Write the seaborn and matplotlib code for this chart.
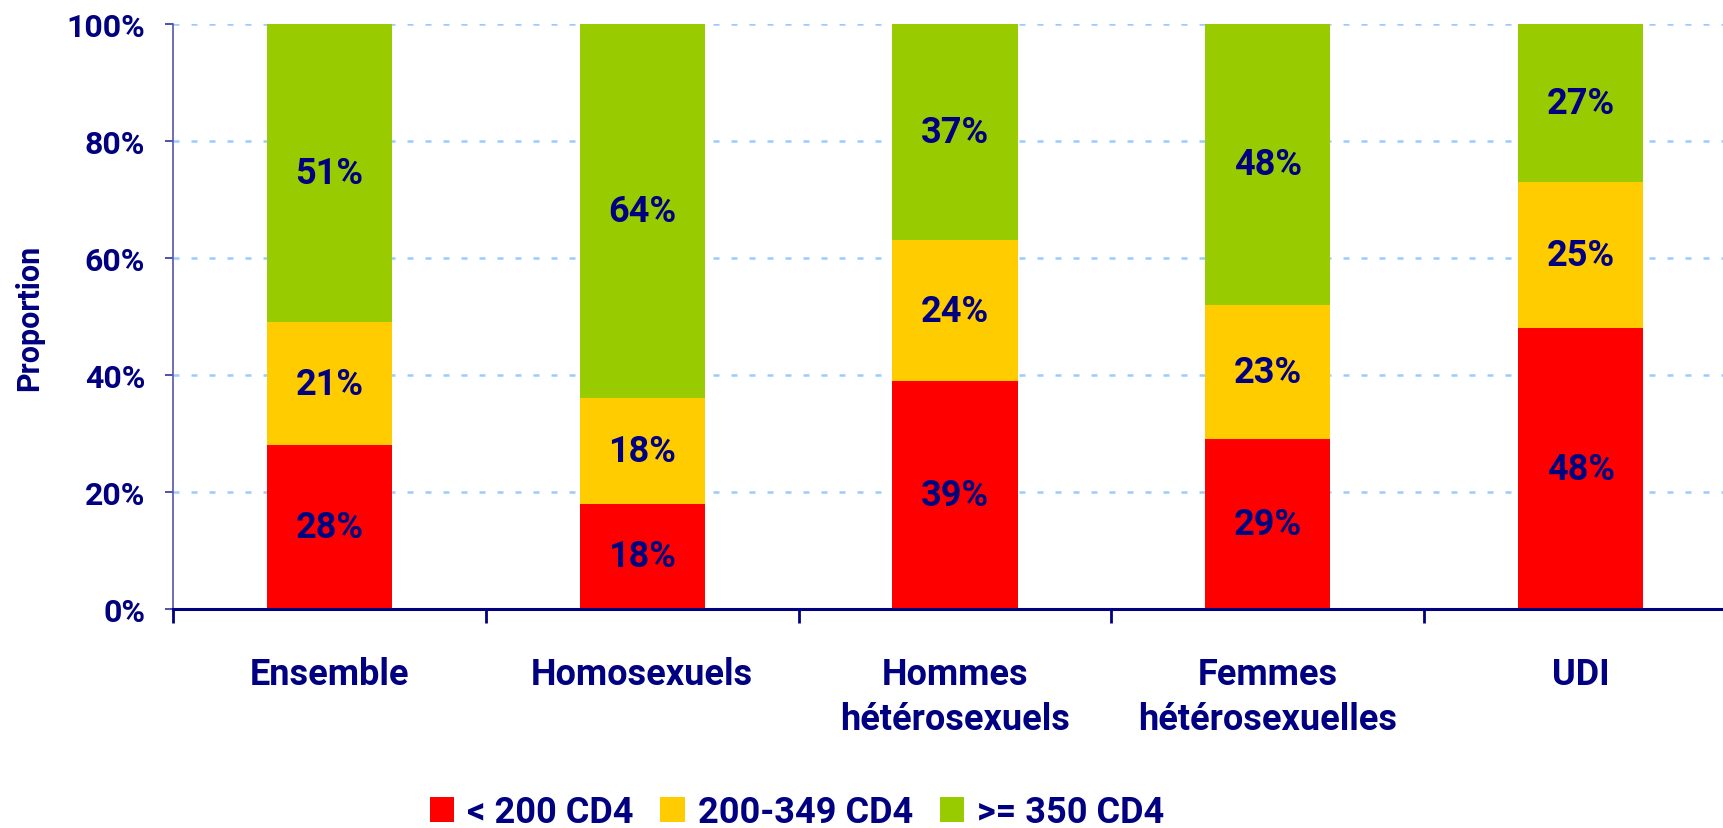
import matplotlib
matplotlib.use("Agg")
import matplotlib.pyplot as plt
import seaborn as sns
import pandas as pd
import numpy as np
from matplotlib.patches import Patch
from matplotlib.ticker import FixedLocator, PercentFormatter

categories = ["Ensemble", "Homosexuels", "Hommes\nhétérosexuels",
              "Femmes\nhétérosexuelles", "UDI"]
lt200 = [28, 18, 39, 29, 48]
mid = [21, 18, 24, 23, 25]
ge350 = [51, 64, 37, 48, 27]
series_names = ["< 200 CD4", "200-349 CD4", ">= 350 CD4"]
colors = ["#FF0000", "#FFCC00", "#99CC00"]
navy = "#000080"

sns.set_style("white")
plt.rcParams["font.family"] = ["Roboto", "DejaVu Sans"]
plt.rcParams["font.weight"] = "bold"

df = pd.DataFrame({"cat": categories, "a": lt200, "b": mid, "c": ge350})
df["ab"] = df["a"] + df["b"]
df["abc"] = df["ab"] + df["c"]

fig = plt.figure(figsize=(17.24, 8.29), dpi=100)
ax = fig.add_axes([173 / 1724, 1 - 610 / 829, (1737 - 173) / 1724, (610 - 25) / 829])

for yv in [20, 40, 60, 80, 100]:
    ax.axhline(yv, color="#99CCFF", lw=1.8, linestyle=(0, (2.4, 4.8)), zorder=0)

sns.barplot(data=df, x="cat", y="abc", color=colors[2], width=0.4, saturation=1,
            ax=ax, zorder=2, linewidth=0)
sns.barplot(data=df, x="cat", y="ab", color=colors[1], width=0.4, saturation=1,
            ax=ax, zorder=3, linewidth=0)
sns.barplot(data=df, x="cat", y="a", color=colors[0], width=0.4, saturation=1,
            ax=ax, zorder=4, linewidth=0)

for i in range(len(categories)):
    segs = [(0, lt200[i]), (lt200[i], mid[i]), (lt200[i] + mid[i], ge350[i])]
    for base, v in segs:
        ax.text(i, base + v / 2, f"{v}%", ha="center", va="center",
                fontsize=26, color=navy, fontweight="bold", zorder=5)

ax.set_xlim(-0.5, 4.5)
ax.set_ylim(0, 100)
ax.yaxis.set_major_locator(FixedLocator([0, 20, 40, 60, 80, 100]))
ax.yaxis.set_major_formatter(PercentFormatter(decimals=0))
ax.tick_params(axis="y", which="major", direction="out", length=6, width=1.2,
               color="#333399", labelsize=23, labelcolor=navy, pad=14, left=True)

ax.xaxis.set_major_locator(FixedLocator(np.arange(-0.5, 5.0, 1.0)))
ax.xaxis.set_major_formatter(plt.NullFormatter())
ax.set_xticks(np.arange(0, 5), minor=True)
ax.set_xticklabels(categories, minor=True)
ax.tick_params(axis="x", which="major", direction="out", length=10, width=2,
               color=navy, bottom=True)
ax.tick_params(axis="x", which="minor", length=0, labelsize=26, labelcolor=navy,
               pad=34)
for lab in ax.get_xticklabels(minor=True):
    lab.set_linespacing(1.3)
    lab.set_fontweight("bold")
ax.set_xlabel("")

ax.set_ylabel("Proportion", fontsize=22, color=navy, fontweight="bold")
ax.yaxis.set_label_coords((44 - 173) / 1564, 0.5)

for s in ["top", "right"]:
    ax.spines[s].set_visible(False)
ax.spines["left"].set_color("#5555AA")
ax.spines["left"].set_linewidth(1.2)
ax.spines["bottom"].set_color(navy)
ax.spines["bottom"].set_linewidth(2.2)
ax.spines["bottom"].set_zorder(6)

handles = [Patch(facecolor=c, edgecolor="none") for c in colors]
fig.legend(handles, series_names, loc="center", bbox_to_anchor=(797 / 1724, 16 / 829),
           ncol=3, frameon=False, handlelength=0.68, handleheight=0.68,
           handletextpad=0.35, columnspacing=0.75, labelcolor=navy, borderpad=0,
           prop={"weight": "bold", "size": 26})

fig.savefig("out.png", dpi=100)
